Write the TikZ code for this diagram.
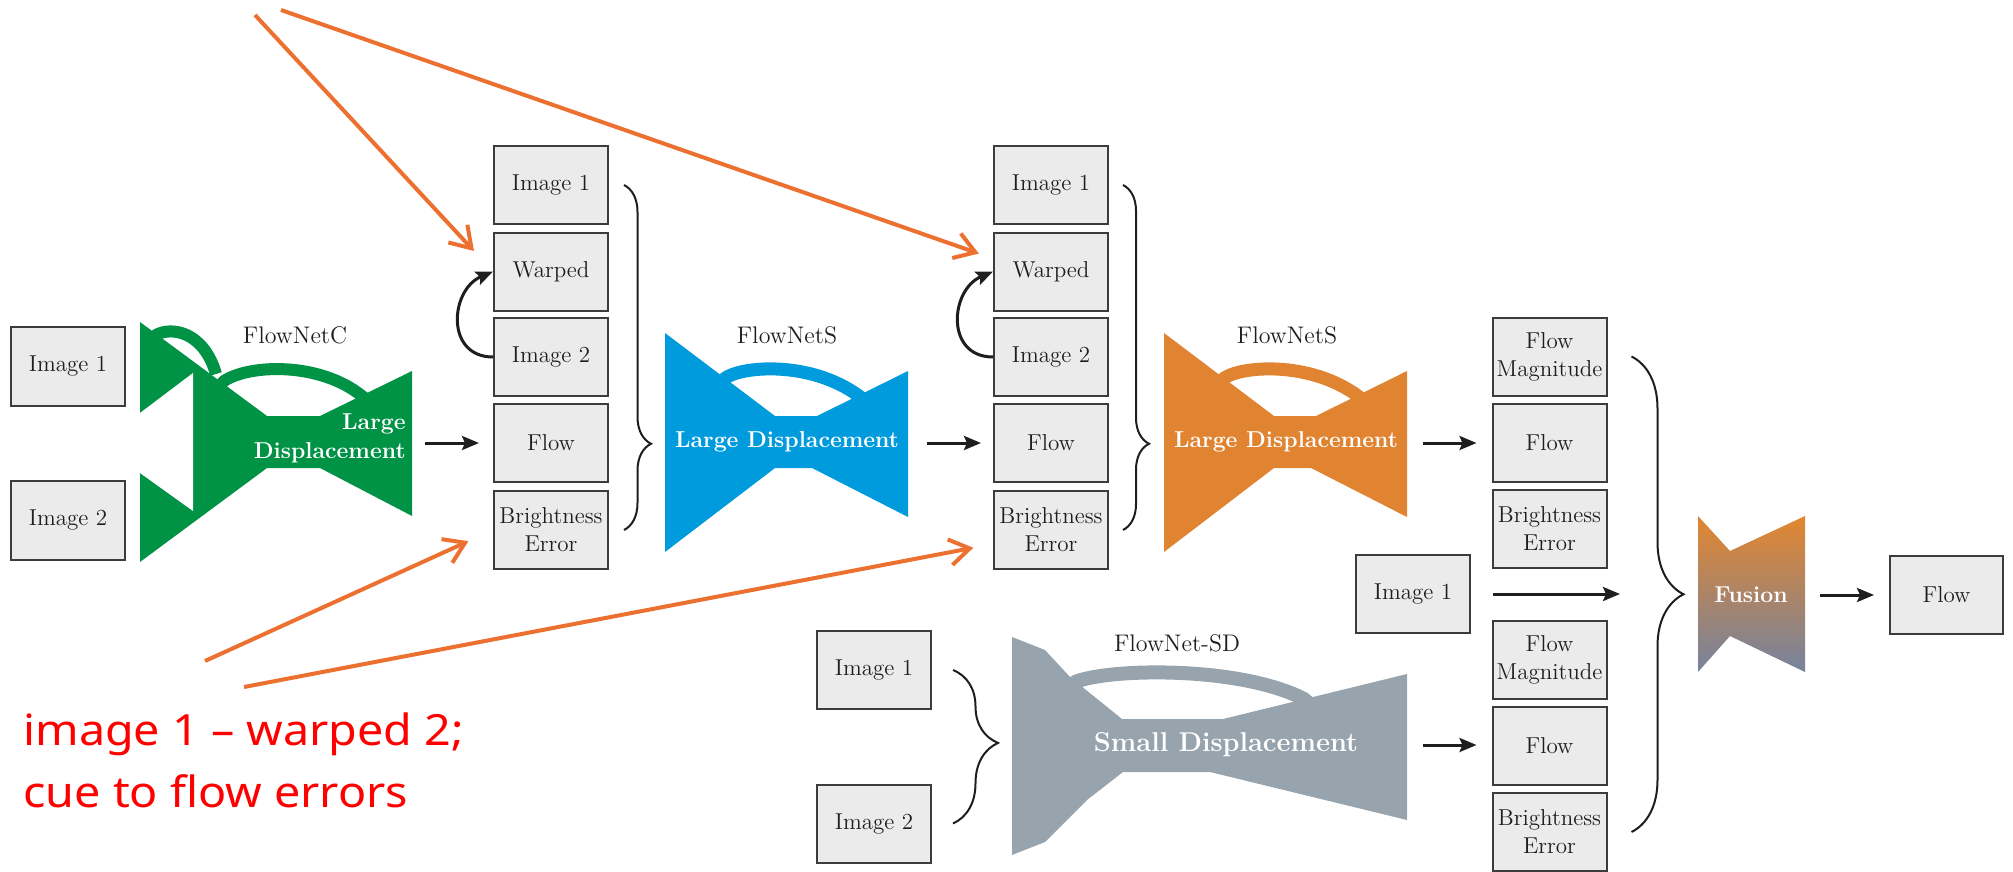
\documentclass[tikz,border=0pt]{standalone}
\usepackage{fontspec}
\newfontfamily\notefont[FakeStretch=1.085]{Noto Sans}
\usetikzlibrary{arrows.meta,decorations.pathreplacing,calc}

\definecolor{boxfill}{RGB}{235,235,235}
\definecolor{boxline}{RGB}{60,60,60}
\definecolor{inkcol}{RGB}{30,30,30}
\definecolor{netgreen}{RGB}{0,146,69}
\definecolor{netblue}{RGB}{0,155,221}
\definecolor{netorange}{RGB}{224,132,49}
\definecolor{netgray}{RGB}{151,164,173}
\definecolor{fusetop}{RGB}{226,134,48}
\definecolor{fusebot}{RGB}{118,131,158}
\definecolor{noteorange}{RGB}{236,113,48}
\definecolor{notered}{RGB}{255,0,0}

\begin{document}
\begin{tikzpicture}[x=0.5pt,y=-0.5pt,
  box/.style={draw=boxline,fill=boxfill,line width=1pt,minimum width=57pt,minimum height=39pt,
    inner sep=0pt,align=center,text=inkcol,font=\fontsize{11.5}{14}\selectfont},
  netlabel/.style={text=inkcol,font=\fontsize{12}{14}\selectfont},
  nettext/.style={text=white,font=\fontsize{11.5}{14.5}\selectfont\bfseries},
  flowarrow/.style={draw=inkcol,line width=1.5pt,-{Stealth[length=8.5pt,width=7pt,inset=1.5pt]}},
  notearrow/.style={draw=noteorange,line width=2pt,-{Straight Barb[length=10pt,width=13pt]}},
  bracestyle/.style={draw=inkcol,line width=1pt,decorate},
  notetext/.style={text=notered,font=\notefont\fontsize{21.5}{31}\selectfont,inner sep=0pt}
]
\useasboundingbox (0,0) rectangle (2013,872);

% ---------------- FlowNetC (two encoder branches merging) ----------------
\fill[netgreen] (140,322) -- (267,416) -- (320,416) -- (412,371) -- (412,516)
  -- (320,468) -- (267,468) -- (140,562) -- cycle;
\fill[white] (140,413) -- (193,373) -- (193,511) -- (140,473) -- cycle;
\draw[netgreen,line width=6pt,line join=round] (151,341) -- (156,335)
  .. controls (172,326) and (204,332) .. (216,374);
\draw[netgreen,line width=6pt,line join=round] (218,388) -- (224,381)
  .. controls (250,364) and (320,362) .. (362,396) -- (370,402);
\node[netlabel] (lblC) at (295,335) {FlowNetC};
\node[nettext,align=right,anchor=east,inner sep=0pt] (txtC) at (406,438) {Large\\Displacement};

% ---------------- FlowNetS (blue) ----------------
\fill[netblue] (665,333) -- (775,416) -- (817,416) -- (908,371) -- (908,517)
  -- (812,468) -- (775,468) -- (665,552) -- cycle;
\draw[netblue,line width=6.5pt,line join=round] (715,391) -- (724,379)
  .. controls (740,366) and (810,360) .. (859,396) -- (868,403);
\node[netlabel] (lblS1) at (787,335) {FlowNetS};
\node[nettext] (txtS1) at (787,442) {Large Displacement};

% ---------------- FlowNetS (orange) ----------------
\begin{scope}[shift={(499,0)}]
\fill[netorange] (665,333) -- (775,416) -- (817,416) -- (908,371) -- (908,517)
  -- (812,468) -- (775,468) -- (665,552) -- cycle;
\draw[netorange,line width=6.5pt,line join=round] (715,391) -- (724,379)
  .. controls (740,366) and (810,360) .. (859,396) -- (868,403);
\end{scope}
\node[netlabel] (lblS2) at (1287,335) {FlowNetS};
\node[nettext] (txtS2) at (1286,442) {Large Displacement};

% ---------------- FlowNet-SD (gray) ----------------
\fill[netgray] (1012,637) -- (1045,650) -- (1070,677) -- (1122,719) -- (1223,719) -- (1407,674)
  -- (1407,820) -- (1210,772) -- (1123,772) -- (1087,800) -- (1045,842) -- (1012,855) -- cycle;
\draw[netgray,line width=7pt,line join=round] (1068,690) -- (1075,682)
  .. controls (1110,668) and (1240,666) .. (1304,699) -- (1312,706);
\node[netlabel] (lblSD) at (1177,643) {FlowNet-SD};
\node[text=white,font=\fontsize{13.6}{16}\selectfont\bfseries] (txtSD) at (1226,745) {Small Displacement};

% ---------------- Fusion ----------------
\shade[top color=fusetop,bottom color=fusebot] (1698,516) -- (1730,551) -- (1805,516)
  -- (1805,672) -- (1730,636) -- (1698,672) -- cycle;
\node[nettext] (txtF) at (1751,595) {Fusion};

% ---------------- boxes ----------------
\node[box,minimum height=39.5pt] (in1) at (68,366.5) {Image 1};
\node[box,minimum height=39.5pt] (in2) at (68,520) {Image 2};

\node[box] (c1i1) at (551,185) {Image 1};
\node[box] (c1w)  at (551,271.5) {Warped};
\node[box] (c1i2) at (551,357) {Image 2};
\node[box] (c1f)  at (551,443) {Flow};
\node[box] (c1be) at (551,530) {Brightness\\Error};

\node[box] (c2i1) at (1051,185) {Image 1};
\node[box] (c2w)  at (1051,271.5) {Warped};
\node[box] (c2i2) at (1051,357) {Image 2};
\node[box] (c2f)  at (1051,443) {Flow};
\node[box] (c2be) at (1051,530) {Brightness\\Error};

\node[box] (c3m)  at (1549.5,356.5) {Flow\\Magnitude};
\node[box] (c3f)  at (1549.5,443) {Flow};
\node[box] (c3e)  at (1549.5,529) {Brightness\\Error};
\node[box] (m1)   at (1413,594) {Image 1};
\node[box] (c3m2) at (1549.5,660) {Flow\\Magnitude};
\node[box] (c3f2) at (1549.5,746) {Flow};
\node[box] (c3e2) at (1549.5,832) {Brightness\\Error};

\node[box] (sd1) at (874,670) {Image 1};
\node[box] (sd2) at (874,823.5) {Image 2};

\node[box,minimum width=56.5pt] (out) at (1946.5,595) {Flow};

% ---------------- braces ----------------
\draw[bracestyle,decoration={brace,amplitude=13.5pt,aspect=0.75}]
  ([xshift=7.5pt]c1i1.east) -- ([xshift=7.5pt]c1be.east);
\draw[bracestyle,decoration={brace,amplitude=13pt,aspect=0.75}]
  ([xshift=7pt]c2i1.east) -- ([xshift=7pt]c2be.east);
\draw[bracestyle,decoration={brace,amplitude=26pt,aspect=0.5}]
  ([xshift=12pt]c3m.east) -- ([xshift=12pt]c3e2.east);
\draw[bracestyle,decoration={brace,amplitude=22.5pt,aspect=0.475}]
  ([xshift=10.5pt]sd1.east) -- ([xshift=10.5pt]sd2.east);

% ---------------- flow arrows ----------------
\coordinate (gout) at (425,443);
\coordinate (bout) at (927,443);
\coordinate (oout) at (1423,443);
\coordinate (sout) at (1423,745);
\coordinate (bracein) at (1620,594);
\coordinate (fout) at (1820,595);

\draw[flowarrow,shorten >=7pt] (gout) -- (c1f.west);
\draw[flowarrow,shorten >=6pt] (bout) -- (c2f.west);
\draw[flowarrow,shorten >=7.5pt] (oout) -- (c3f.west);
\draw[flowarrow,shorten >=7.5pt] (sout) -- (sout -| c3f2.west);
\draw[flowarrow,shorten <=11pt] (m1.east) -- (bracein);
\draw[flowarrow,shorten >=7.5pt] (fout) -- (out.west);

\draw[flowarrow] (c1i2.west) .. controls (445,357) and (450,290) .. (c1w.west);
\draw[flowarrow] (c2i2.west) .. controls (945,357) and (950,290) .. (c2w.west);

% ---------------- annotation ----------------
\node[notetext,anchor=base west] (note1) at (23,745) {image 1 – warped 2;};
\node[notetext,anchor=base west] (note2) at (23,807) {cue to flow errors};

\coordinate (srcA) at (255,15);
\coordinate (srcB) at (281,10);
\coordinate (srcC) at (205,661);
\coordinate (srcD) at (244,687);

\draw[notearrow,shorten >=14pt] (srcA) -- (c1w.west);
\draw[notearrow,shorten >=7.5pt] (srcB) -- ([yshift=6.5pt]c2w.west);
\draw[notearrow,shorten >=13.5pt] (srcC) -- (c1be.west);
\draw[notearrow,shorten >=10pt] (srcD) -- ([yshift=-7pt]c2be.west);
\end{tikzpicture}
\end{document}
